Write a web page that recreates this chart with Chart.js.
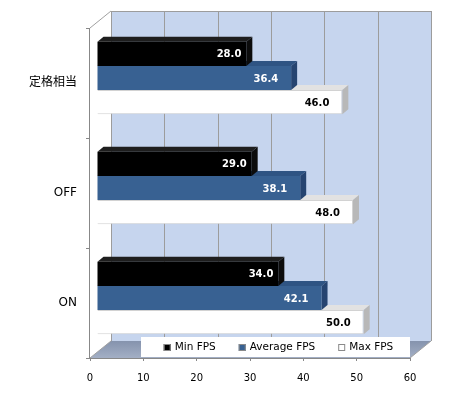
<!DOCTYPE html>
<html>
<head>
<meta charset="utf-8">
<script src="https://cdn.jsdelivr.net/npm/chart.js@4.4.1/dist/chart.umd.min.js"></script>
<style>
  body { margin: 0; background: #fff; }
</style>
</head>
<body>
<canvas id="fpsChart" width="450" height="395"></canvas>
<script>
const categories = ['定格相当', 'OFF', 'ON'];
const minFps = [28.0, 29.0, 34.0];
const avgFps = [36.4, 38.1, 42.1];
const maxFps = [46.0, 48.0, 50.0];
const seriesNames = ['Min FPS', 'Average FPS', 'Max FPS'];
const xTicks = [0, 10, 20, 30, 40, 50, 60];

// fake 3d: offset of the back wall, where the bars sit in depth, and how deep they are
const WALL = { dx: 21, dy: -17 };
const BAR_SHIFT = { dx: 7, dy: -5 };
const BAR_DEPTH = { dx: 6, dy: -5 };

const frontColors = ['#000000', '#386192', '#ffffff'];
const topColors = ['#1e1e1e', '#2f5483', '#e2e2e2'];
const sideColors = ['#0c0c0c', '#264470', '#b8b8b8'];
const labelColors = ['#ffffff', '#ffffff', '#000000'];
const labelPad = [5, 13, 13];

const FONT = '"DejaVu Sans", "Noto Sans CJK JP", sans-serif';

function poly(ctx, pts, fill) {
    ctx.beginPath();
    ctx.moveTo(pts[0][0], pts[0][1]);
    for (let i = 1; i < pts.length; i++) ctx.lineTo(pts[i][0], pts[i][1]);
    ctx.closePath();
    ctx.fillStyle = fill;
    ctx.fill();
}

function seg(ctx, x1, y1, x2, y2) {
    ctx.beginPath();
    ctx.moveTo(x1, y1);
    ctx.lineTo(x2, y2);
    ctx.stroke();
}

const threeD = {
    id: 'threeD',
    beforeDatasetsDraw(chart) {
        const { ctx, chartArea: a, scales: { x } } = chart;
        ctx.save();

        // back wall + its gridlines
        ctx.fillStyle = '#c6d5ee';
        ctx.fillRect(a.left + WALL.dx, a.top + WALL.dy, a.right - a.left, a.bottom - a.top);
        ctx.strokeStyle = '#9c9c9c';
        ctx.lineWidth = 1;
        xTicks.forEach(v => {
            const px = Math.round(x.getPixelForValue(v) + WALL.dx) + 0.5;
            seg(ctx, px, a.top + WALL.dy, px, a.bottom + WALL.dy);
        });
        seg(ctx, a.left + WALL.dx, a.top + WALL.dy + 0.5, a.right + WALL.dx, a.top + WALL.dy + 0.5);

        // left side wall
        poly(ctx, [[a.left, a.top], [a.left + WALL.dx, a.top + WALL.dy],
            [a.left + WALL.dx, a.bottom + WALL.dy], [a.left, a.bottom]], '#ffffff');

        // floor
        const g = ctx.createLinearGradient(0, a.bottom + WALL.dy, 0, a.bottom);
        g.addColorStop(0, '#8593ad');
        g.addColorStop(1, '#a3afc5');
        poly(ctx, [[a.left, a.bottom], [a.right, a.bottom],
            [a.right + WALL.dx, a.bottom + WALL.dy], [a.left + WALL.dx, a.bottom + WALL.dy]], g);

        // edges
        ctx.strokeStyle = '#a0a0a0';
        seg(ctx, a.left, a.top, a.left + WALL.dx, a.top + WALL.dy);
        seg(ctx, a.right, a.bottom, a.right + WALL.dx, a.bottom + WALL.dy);
        seg(ctx, a.left, a.bottom, a.left + WALL.dx, a.bottom + WALL.dy);
        // front axis lines (the side wall covered the scale borders)
        ctx.strokeStyle = '#888888';
        seg(ctx, a.left - 0.5, a.top, a.left - 0.5, a.bottom);
        seg(ctx, a.left - 2, a.bottom + 0.5, a.right, a.bottom + 0.5);
        ctx.restore();

        // bars are drawn a bit deeper than the front plane
        ctx.save();
        ctx.translate(BAR_SHIFT.dx, BAR_SHIFT.dy);
    },
    beforeDatasetDraw(chart, args) {
        const ctx = chart.ctx;
        const i = args.index;
        args.meta.data.forEach(bar => {
            const { x, y, base, height } = bar.getProps(['x', 'y', 'base', 'height'], true);
            const t = y - height / 2, b = y + height / 2;
            poly(ctx, [[base, t], [x, t], [x + BAR_DEPTH.dx, t + BAR_DEPTH.dy],
                [base + BAR_DEPTH.dx, t + BAR_DEPTH.dy]], topColors[i]);
            poly(ctx, [[x, t], [x + BAR_DEPTH.dx, t + BAR_DEPTH.dy],
                [x + BAR_DEPTH.dx, b + BAR_DEPTH.dy], [x, b]], sideColors[i]);
        });
    },
    afterDatasetsDraw(chart) {
        const ctx = chart.ctx;
        ctx.restore();

        // value labels, inside the end of each bar
        ctx.save();
        ctx.font = 'bold 10px ' + FONT;
        ctx.textAlign = 'right';
        ctx.textBaseline = 'middle';
        chart.data.datasets.forEach((ds, i) => {
            chart.getDatasetMeta(i).data.forEach((bar, j) => {
                ctx.fillStyle = labelColors[i];
                ctx.fillText(ds.data[j].toFixed(1), bar.x + BAR_SHIFT.dx - labelPad[i], bar.y + BAR_SHIFT.dy + 1);
            });
        });
        ctx.restore();
    },
    afterDraw(chart) {
        // legend box sitting on the floor
        const { ctx, chartArea: a } = chart;
        const boxW = 269, boxH = 20;
        const bx = a.right - boxW, by = a.bottom - 1 - boxH;
        ctx.save();
        ctx.fillStyle = '#ffffff';
        ctx.fillRect(bx, by, boxW, boxH);

        ctx.font = '10.5px ' + FONT;
        ctx.textBaseline = 'middle';
        const icon = 7, gapIn = 4, gapOut = 23;
        const widths = seriesNames.map(s => ctx.measureText(s).width);
        const total = widths.reduce((s, w) => s + icon + gapIn + w, 0) + gapOut * (seriesNames.length - 1);
        let cx = bx + (boxW - total) / 2 + 3;
        const cy = by + boxH / 2;
        seriesNames.forEach((name, i) => {
            ctx.fillStyle = frontColors[i];
            ctx.fillRect(cx, cy - 3, icon, icon);
            ctx.strokeStyle = '#8a8a8a';
            ctx.lineWidth = 1;
            ctx.strokeRect(cx + 0.5, cy - 2.5, icon - 1, icon - 1);
            ctx.fillStyle = '#000000';
            ctx.fillText(name, cx + icon + gapIn, cy);
            cx += icon + gapIn + widths[i] + gapOut;
        });
        ctx.restore();
    }
};

new Chart(document.getElementById('fpsChart'), {
    type: 'bar',
    data: {
        labels: categories,
        datasets: [
            { label: seriesNames[0], data: minFps, backgroundColor: frontColors[0], borderWidth: 0 },
            { label: seriesNames[1], data: avgFps, backgroundColor: frontColors[1], borderWidth: 0 },
            { label: seriesNames[2], data: maxFps, backgroundColor: frontColors[2],
              borderColor: '#d2d2d2', borderWidth: 1 }
        ]
    },
    options: {
        indexAxis: 'y',
        responsive: false,
        devicePixelRatio: 1,
        animation: false,
        clip: false,
        categoryPercentage: 0.66,
        barPercentage: 1.0,
        layout: { padding: { top: 28, right: 40, left: 0, bottom: 0 } },
        plugins: {
            legend: { display: false },
            tooltip: { enabled: false }
        },
        scales: {
            x: {
                min: 0,
                max: 60,
                afterBuildTicks: s => { s.ticks = xTicks.map(v => ({ value: v })); },
                afterFit: s => { s.height = 37; },
                grid: { drawOnChartArea: false, tickLength: 3, color: '#888' },
                border: { color: '#888' },
                ticks: { color: '#000', font: { family: FONT, size: 10 }, padding: 11 }
            },
            y: {
                afterFit: s => { s.width = 90; },
                grid: { drawOnChartArea: false, tickLength: 4, color: '#888' },
                border: { color: '#888' },
                ticks: { color: '#000', font: { family: FONT, size: 12 }, padding: 9 }
            }
        }
    },
    plugins: [threeD]
});
</script>
</body>
</html>
